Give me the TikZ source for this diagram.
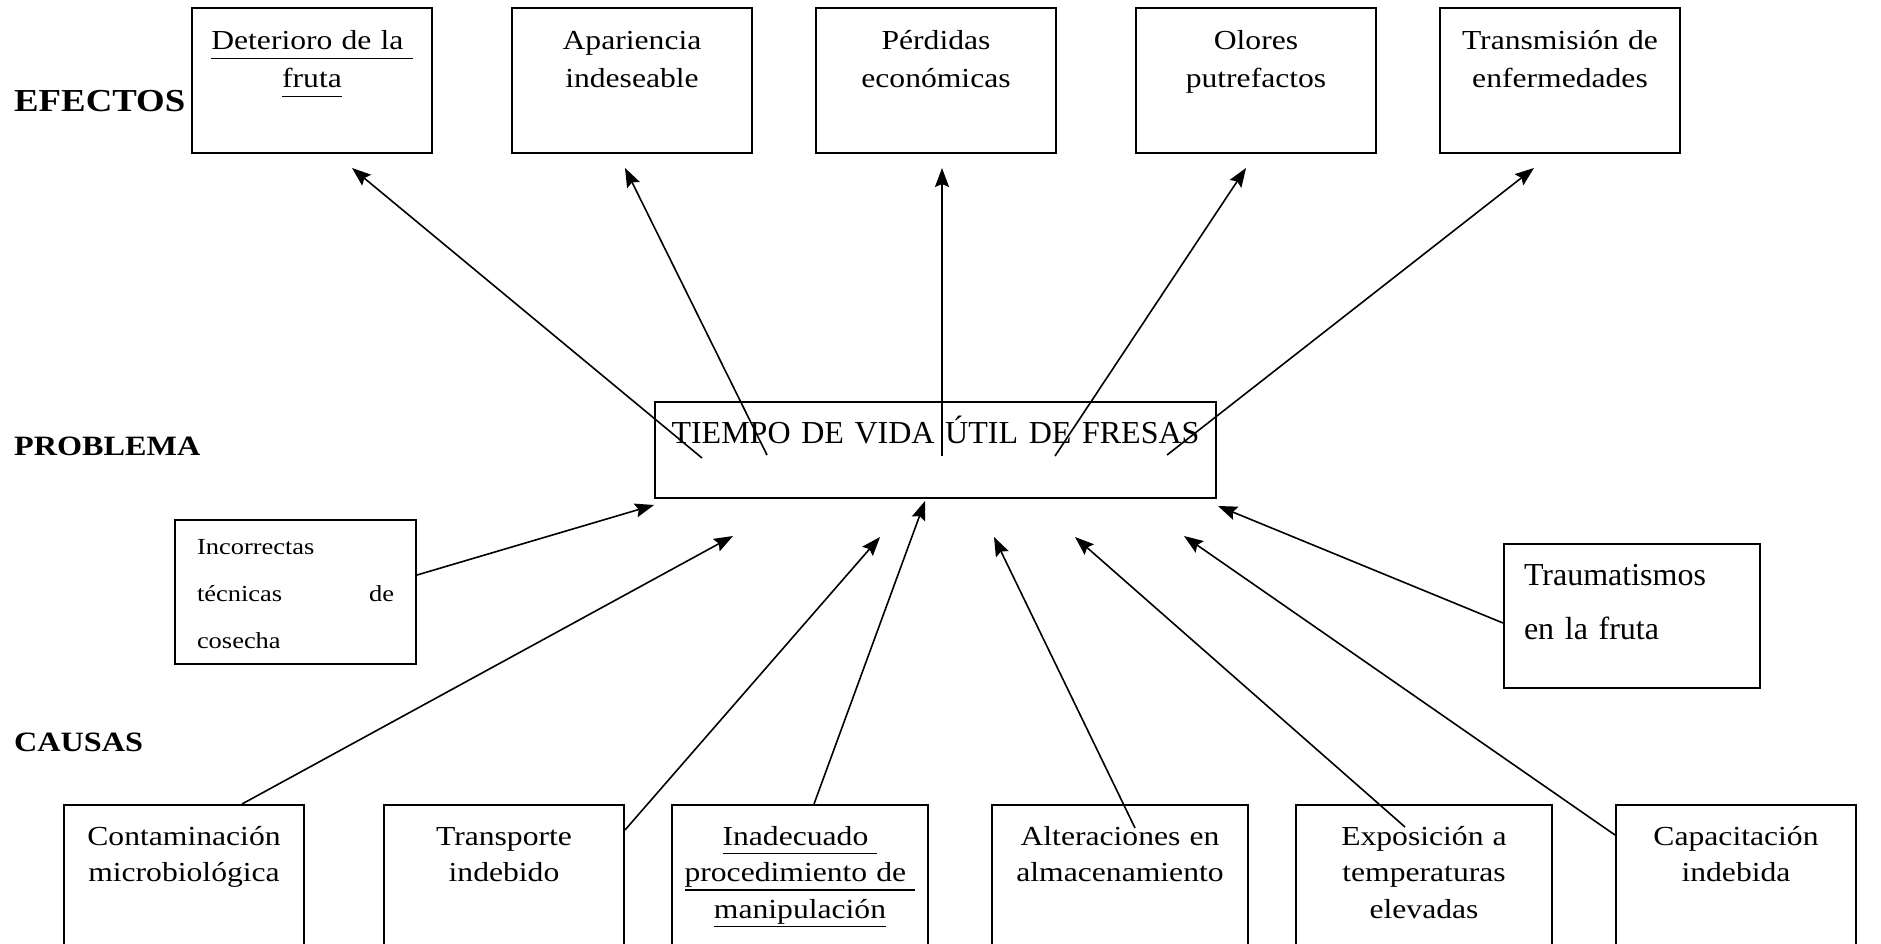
\documentclass[tikz,border=0pt]{standalone}
\usepackage{fontspec}
\setmainfont{Liberation Serif}
\newfontfamily\anchafont[FakeStretch=1.15]{Liberation Serif}
\usetikzlibrary{arrows.meta}
\newcommand{\subrayado}[1]{\leavevmode\begingroup\setbox0\hbox{#1}\rlap{\rule[-0.34em]{\wd0}{1.5pt}}\box0\endgroup}

\begin{document}
\begin{tikzpicture}[x=1pt, y=-1pt,
    flecha/.style={-{Stealth[length=19pt,width=14pt,inset=3pt]}, line width=1.6pt},
    caja/.style={draw, line width=2pt, anchor=north west, inner sep=0pt, align=center},
    efecto/.style={caja, text width=240pt, text height=42pt, text depth=103pt,
        font=\anchafont\fontsize{27.5}{38}\selectfont},
    causa/.style={caja, text width=#1, text height=40pt, text depth=130pt,
        font=\anchafont\fontsize{27.5}{36.5}\selectfont},
    causa/.default=240pt,
    etiqueta/.style={anchor=west, inner sep=0pt, font=\anchafont\bfseries\fontsize{28}{34}\selectfont}]
        \path[use as bounding box, clip] (0,0) rectangle (1881,944);
        \fill[white] (0,0) rectangle (1881,944);

        \node[etiqueta, font=\anchafont\bfseries\fontsize{32}{38}\selectfont] (efectos) at (14,101) {EFECTOS};
        \node[etiqueta] (problema) at (14,446) {PROBLEMA};
        \node[etiqueta] (causas) at (14,742) {CAUSAS};

        \node[efecto] (deterioro) at (191,7) {\subrayado{Deterioro de la\ }\\\subrayado{fruta}};
        \node[efecto] (apariencia) at (511,7) {Apariencia\\indeseable};
        \node[efecto] (perdidas) at (815,7) {Pérdidas\\económicas};
        \node[efecto] (olores) at (1135,7) {Olores\\putrefactos};
        \node[efecto] (transmision) at (1439,7) {Transmisión de\\enfermedades};

        \node[caja, text width=561pt, text height=41pt, text depth=55pt,
            font=\fontsize{32}{38}\selectfont] (tiempo) at (654,401) {TIEMPO DE VIDA ÚTIL DE FRESAS};

        \node[caja, text width=197pt, inner xsep=22pt, align=left, text height=34pt, text depth=110pt,
            font=\anchafont\fontsize{23}{47}\selectfont] (tecnicas) at (174,519) {Incorrectas\\técnicas\hfill de\\cosecha};
        \node[caja, text width=216pt, inner xsep=20pt, align=left, text height=41pt, text depth=103pt,
            font=\fontsize{32}{54}\selectfont] (traumatismos) at (1503,543) {Traumatismos\\en la fruta};

        \node[causa] (contaminacion) at (63,804) {Contaminación\\microbiológica};
        \node[causa] (transporte) at (383,804) {Transporte\\indebido};
        \node[causa=256pt] (manipulacion) at (671,804)
            {\subrayado{Inadecuado\ }\\\subrayado{procedimiento de\ }\\\subrayado{manipulación}};
        \node[causa=256pt] (almacenamiento) at (991,804) {Alteraciones en\\almacenamiento};
        \node[causa=256pt] (temperaturas) at (1295,804) {Exposición a\\temperaturas\\elevadas};
        \node[causa] (capacitacion) at (1615,804) {Capacitación\\indebida};

        \draw[flecha] ([shift={(48,57)}]tiempo.north west) -- ([shift={(161,14)}]deterioro.south west);
        \draw[flecha] ([shift={(113,54)}]tiempo.north west) -- ([shift={(114,14)}]apariencia.south west);
        \draw[flecha] ([shift={(288,55)}]tiempo.north west) -- ([shift={(127,14)}]perdidas.south west);
        \draw[flecha] ([shift={(401,55)}]tiempo.north west) -- ([shift={(111,14)}]olores.south west);
        \draw[flecha] ([shift={(513,54)}]tiempo.north west) -- ([shift={(95,14)}]transmision.south west);

        \draw[flecha] ([shift={(0,56)}]tecnicas.north east) -- ([shift={(0,6)}]tiempo.south west);
        \draw[flecha] ([shift={(179,0)}]contaminacion.north west) -- ([shift={(79,37)}]tiempo.south west);
        \draw[flecha] ([shift={(0,26)}]transporte.north east) -- ([shift={(226,38)}]tiempo.south west);
        \draw[flecha] ([shift={(143,0)}]manipulacion.north west) -- ([shift={(271,2)}]tiempo.south west);
        \draw[flecha] ([shift={(144,24)}]almacenamiento.north west) -- ([shift={(340,38)}]tiempo.south west);
        \draw[flecha] ([shift={(110,23)}]temperaturas.north west) -- ([shift={(421,38)}]tiempo.south west);
        \draw[flecha] ([shift={(0,31)}]capacitacion.north west) -- ([shift={(530,37)}]tiempo.south west);
        \draw[flecha] ([shift={(0,80)}]traumatismos.north west) -- ([shift={(1,7)}]tiempo.south east);
    \end{tikzpicture}
\end{document}
